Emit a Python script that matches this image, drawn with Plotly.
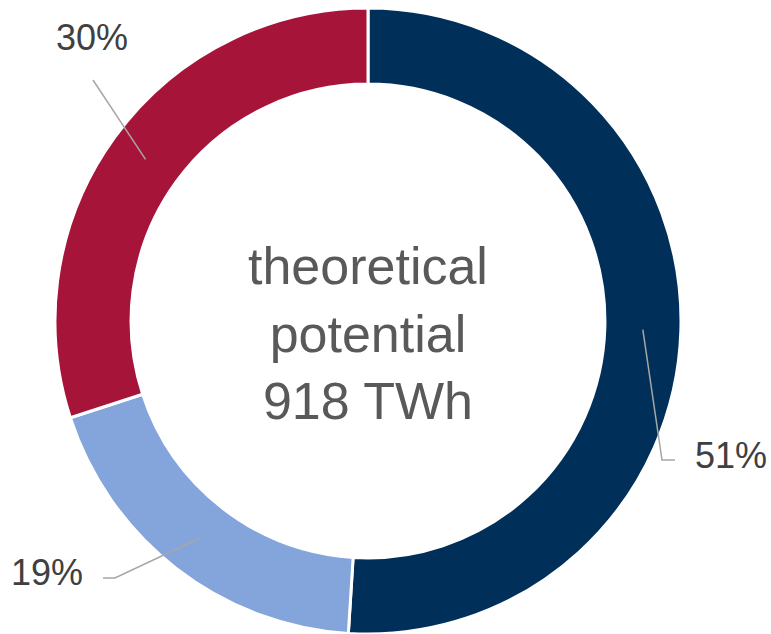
import math
import plotly.graph_objects as go

# Shares of the theoretical potential (percent)
categories = ["A", "B", "C"]
shares = [51, 19, 30]
share_labels = ["51%", "19%", "30%"]
slice_colors = ["#00305A", "#84A5DB", "#A6143A"]
center_text = "theoretical<br>potential<br>918 TWh"

W, H = 771, 634
HOLE = 0.757
DOMAIN_X = [55 / W, 681 / W]
DOMAIN_Y = [0.0, 1 - 8 / H]

# Label layout: elbow point, end of horizontal tick, label anchor (pixels)
label_layout = {
    "51%": dict(elbow=(662, 460), tick=(675, 460), text=(731, 455)),
    "19%": dict(elbow=(115, 578), tick=(103, 578), text=(47, 572)),
    "30%": dict(elbow=(93, 80), tick=None, text=(92, 38)),
}

fig = go.Figure(
    go.Pie(
        labels=categories,
        values=shares,
        hole=HOLE,
        sort=False,
        direction="clockwise",
        rotation=0,
        marker=dict(colors=slice_colors, line=dict(color="white", width=3)),
        textinfo="none",
        hoverinfo="label+percent",
        domain=dict(x=DOMAIN_X, y=DOMAIN_Y),
        showlegend=False,
    )
)

# Pie geometry in pixels, derived from the domain
dom_w = (DOMAIN_X[1] - DOMAIN_X[0]) * W
dom_h = (DOMAIN_Y[1] - DOMAIN_Y[0]) * H
R = min(dom_w, dom_h) / 2
cx = (DOMAIN_X[0] + DOMAIN_X[1]) / 2 * W
cy = (1 - (DOMAIN_Y[0] + DOMAIN_Y[1]) / 2) * H
r_mid = R * (1 + HOLE) / 2


def px(x, y):
    return x / W, 1 - y / H


total = sum(shares)
cum = 0
shapes = []
annotations = []
for val, lab in zip(shares, share_labels):
    mid = (cum + val / 2) / total * 2 * math.pi
    cum += val
    sx = cx + r_mid * math.sin(mid)
    sy = cy - r_mid * math.cos(mid)
    lay = label_layout[lab]
    pts = [(sx, sy), lay["elbow"]]
    if lay["tick"] is not None:
        pts.append(lay["tick"])
    path = "M " + " L ".join(f"{px(*p)[0]:.5f},{px(*p)[1]:.5f}" for p in pts)
    shapes.append(
        dict(type="path", xref="paper", yref="paper", path=path,
             line=dict(color="#A6A6A6", width=1.5))
    )
    tx, ty = px(*lay["text"])
    annotations.append(
        dict(x=tx, y=ty, xref="paper", yref="paper", text=lab, showarrow=False,
             xanchor="center", yanchor="middle",
             font=dict(family="Liberation Sans, Arial, sans-serif", size=36, color="#404040"))
    )

ccx, ccy = px(cx, cy)
annotations.append(
    dict(x=ccx, y=ccy, xref="paper", yref="paper", text=center_text, showarrow=False,
         xanchor="center", yanchor="middle", yshift=-12,
         font=dict(family="Liberation Sans, Arial, sans-serif", size=52, color="#595959"))
)

fig.update_layout(
    width=W, height=H,
    margin=dict(l=0, r=0, t=0, b=0),
    paper_bgcolor="white",
    plot_bgcolor="white",
    shapes=shapes,
    annotations=annotations,
)

fig.write_html("out.html")
